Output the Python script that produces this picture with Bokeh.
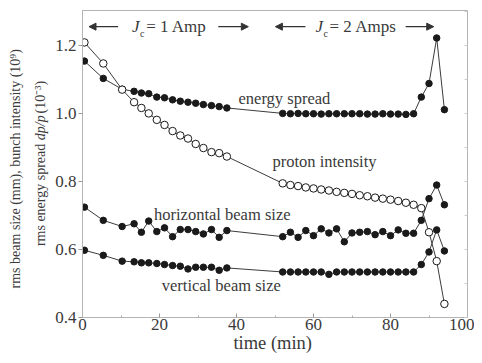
import math
from bokeh.plotting import figure
from bokeh.layouts import row
from bokeh.models import Label, Arrow, NormalHead, LinearAxis, FixedTicker, NumeralTickFormatter
from bokeh.embed import file_html
from bokeh.resources import INLINE

# ---- data ----
time_min = [0.5, 5.4, 10.3, 13.4, 15.3, 17.2, 19.3, 21.3, 23.4, 25.4, 27.4, 29.4, 31.4, 33.5, 35.5, 37.5,
            52, 54, 56, 58, 60, 62, 64, 66, 68, 70, 72, 74, 76, 78, 80, 82, 84, 86, 88, 90, 92, 94]
energy_spread = [1.155, 1.104, 1.072, 1.066, 1.061, 1.059, 1.049, 1.047, 1.041, 1.037, 1.034, 1.031, 1.027, 1.024, 1.021, 1.017,
                 1.001, 1.000, 1.001, 1.000, 1.000, 0.999, 1.000, 1.000, 1.000, 1.000, 1.000, 0.999, 0.999, 1.000, 0.999, 0.999, 0.998, 1.000,
                 1.049, 1.089, 1.223, 1.012]
proton_intensity = [1.210, 1.148, 1.071, 1.034, 1.017, 1.001, 0.982, 0.967, 0.949, 0.936, 0.927, 0.911, 0.899, 0.887, 0.884, 0.874,
                    0.795, 0.790, 0.787, 0.783, 0.780, 0.777, 0.774, 0.770, 0.767, 0.764, 0.760, 0.757, 0.753, 0.750, 0.747, 0.743, 0.738, 0.732,
                    0.722, 0.651, 0.566, 0.440]
horizontal_size = [0.725, 0.686, 0.668, 0.676, 0.651, 0.684, 0.653, 0.664, 0.638, 0.659, 0.659, 0.653, 0.646, 0.659, 0.636, 0.656,
                   0.638, 0.651, 0.636, 0.656, 0.641, 0.661, 0.649, 0.661, 0.623, 0.649, 0.651, 0.653, 0.644, 0.653, 0.641, 0.658, 0.648, 0.648,
                   0.686, 0.750, 0.790, 0.732]
vertical_size = [0.598, 0.583, 0.566, 0.564, 0.561, 0.561, 0.559, 0.556, 0.553, 0.551, 0.543, 0.548, 0.548, 0.548, 0.539, 0.546,
                 0.534, 0.534, 0.534, 0.534, 0.534, 0.534, 0.527, 0.534, 0.534, 0.534, 0.534, 0.534, 0.534, 0.534, 0.534, 0.534, 0.534, 0.534,
                 0.556, 0.593, 0.658, 0.596]
x_ticks = [0, 20, 40, 60, 80, 100]
x_minor = [10, 30, 50, 70, 90]
y_ticks = [0.4, 0.6, 0.8, 1.0, 1.2]
y_right_ticks = [0.4, 0.5, 0.6, 0.7, 0.8, 0.9, 1.0, 1.1, 1.2, 1.3]

FONT = "Liberation Serif"
TXT = "#3a3a3a"
AX = "#b4b4b4"

W, H = 474, 355
# ---- left strip holding the rotated y-axis title ----
LW = 52
lp = figure(width=LW, height=H, x_range=(0, LW), y_range=(0, H), output_backend="svg",
            toolbar_location=None, min_border=0, outline_line_color=None,
            background_fill_color="white", border_fill_color="white")
lp.xaxis.visible = False
lp.yaxis.visible = False
lp.grid.visible = False

def ilab(fig, ix, iy, text, size="14px", style="normal", align="center", angle=0.0):
    fig.add_layout(Label(x=ix, y=H - iy, text=text, text_font=FONT, text_font_size=size,
                         text_font_style=style, text_align=align, text_baseline="middle",
                         angle=angle, text_color=TXT))

up = math.pi / 2
ilab(lp, 15, 181, "rms beam size  (mm), bunch intensity (10\u2079)", angle=up)
# second title line, anchored at the junction before the italic part
ilab(lp, 40, 150, "rms energy spread ", angle=up, align="right")
ilab(lp, 40, 150, "dp/p", style="italic", angle=up, align="left")
ilab(lp, 40, 119, " (10\u207b\u00b3)", angle=up, align="left")

# ---- main plot ----
X0, X1, Y0, Y1 = 0, 100, 0.4, 1.304
p = figure(width=W - LW, height=H, x_range=(X0, X1), y_range=(Y0, Y1),
           output_backend="svg", toolbar_location=None,
           min_border_left=30, min_border_right=7, min_border_top=10, min_border_bottom=0,
           background_fill_color="white", border_fill_color="white",
           outline_line_color=AX, outline_line_width=1)
p.grid.visible = False

def px(x):
    return X0 + (x - 82.5) / (466.7 - 82.5) * (X1 - X0)
def py(y):
    return Y0 + (314 - y) / (314 - 10) * (Y1 - Y0)

LINE = "#3c3c3c"
for vals in (energy_spread, horizontal_size, vertical_size):
    p.line(time_min, vals, line_color=LINE, line_width=1)
    p.scatter(time_min, vals, size=6.5, fill_color="#1a1a1a", line_color="#1a1a1a")
p.line(time_min, proton_intensity, line_color=LINE, line_width=1)
p.scatter(time_min, proton_intensity, size=7.5, fill_color="white", line_color="#1a1a1a", line_width=1)

xa = p.xaxis[0]
xa.ticker = FixedTicker(ticks=x_ticks, minor_ticks=x_minor)
xa.major_tick_in = 4; xa.major_tick_out = 0
xa.minor_tick_in = 2; xa.minor_tick_out = 0
xa.axis_line_color = AX; xa.major_tick_line_color = "#999999"; xa.minor_tick_line_color = "#aaaaaa"
xa.major_label_text_font = FONT; xa.major_label_text_font_size = "17px"; xa.major_label_text_color = TXT
xa.major_label_standoff = 1
xa.axis_label = "time  (min)"
xa.axis_label_text_font = FONT; xa.axis_label_text_font_size = "18.5px"
xa.axis_label_text_font_style = "normal"; xa.axis_label_text_color = TXT
xa.axis_label_standoff = 0

ya = p.yaxis[0]
ya.ticker = FixedTicker(ticks=y_ticks, minor_ticks=[])
ya.formatter = NumeralTickFormatter(format="0.0")
ya.major_tick_in = 0; ya.major_tick_out = 4
ya.minor_tick_line_color = None
ya.axis_line_color = AX; ya.major_tick_line_color = "#999999"
ya.major_label_text_font = FONT; ya.major_label_text_font_size = "17px"; ya.major_label_text_color = TXT
ya.major_label_standoff = 2

ra = LinearAxis(ticker=FixedTicker(ticks=y_right_ticks, minor_ticks=[]),
                major_label_text_font_size="0px", major_label_text_color=None,
                major_tick_in=3, major_tick_out=0, minor_tick_line_color=None,
                axis_line_color=AX, major_tick_line_color="#cccccc", major_label_standoff=0)
p.add_layout(ra, "right")

def lab(x, y, text, size="16.5px", style="normal", align="center"):
    p.add_layout(Label(x=x, y=y, text=text, text_font=FONT, text_font_size=size, text_font_style=style,
                       text_align=align, text_baseline="middle", text_color=TXT))

lab(px(284), py(97), "energy spread")
lab(px(324), py(160), "proton intensity")
lab(px(222), py(212), "horizontal beam size")
lab(px(221), py(282), "vertical beam size")

ya_arrow = py(26)
for (a1, a0) in ((118, 89), (218, 248), (305, 275), (405, 433)):
    p.add_layout(Arrow(end=NormalHead(size=7, fill_color="#333333", line_color="#333333", line_width=1),
                       x_start=px(a1), y_start=ya_arrow, x_end=px(a0), y_end=ya_arrow,
                       line_color="#333333", line_width=1.2))
for (jx, txt) in ((132, "= 1 Amp"), (315, "= 2 Amps")):
    lab(px(jx), ya_arrow, "J", size="17px", style="italic", align="left")
    lab(px(jx + 8), py(33), "c", size="10px", align="left")
    lab(px(jx + 14), ya_arrow, txt, size="17px", align="left")

layout = row(lp, p, spacing=0)
open("out.html", "w").write(file_html(layout, INLINE))
